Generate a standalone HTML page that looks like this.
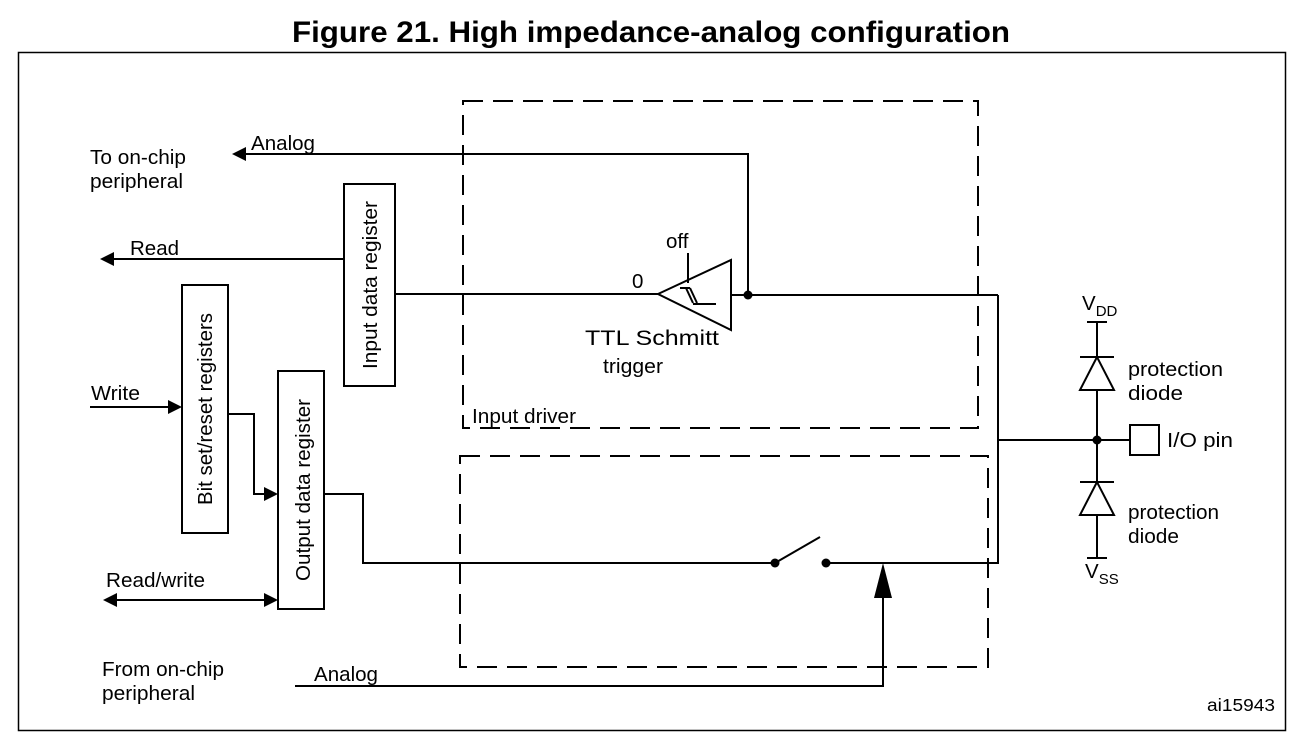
<!DOCTYPE html>
<html><head><meta charset="utf-8"><style>
html,body{margin:0;padding:0;background:#fff;}
svg{display:block;font-family:"Liberation Sans",Arial,sans-serif;}
</style></head><body>
<svg width="1304" height="742" viewBox="0 0 1304 742" xmlns="http://www.w3.org/2000/svg">
<text x="651" y="42" text-anchor="middle" font-size="30" font-weight="bold" textLength="718" lengthAdjust="spacingAndGlyphs">Figure 21. High impedance-analog configuration</text>
<rect x="18.5" y="52.5" width="1267" height="678" fill="none" stroke="#000" stroke-width="1.5"/>
<g fill="none" stroke="#000" stroke-width="2" stroke-dasharray="20,10">
<rect x="463" y="101" width="515" height="327"/>
<rect x="460" y="456" width="528" height="211"/>
</g>
<g fill="none" stroke="#000" stroke-width="2">
<rect x="182" y="285" width="46" height="248"/>
<rect x="278" y="371" width="46" height="238"/>
<rect x="344" y="184" width="51" height="202"/>
<polyline points="748,295 748,154 236,154"/>
<line x1="344" y1="259" x2="104" y2="259"/>
<line x1="395" y1="294" x2="658" y2="294"/>
<polygon points="658,294 731,260 731,330"/>
<line x1="688" y1="253" x2="688" y2="283"/>
<polyline points="680,288 690,288"/>
<line x1="690" y1="288" x2="697" y2="303"/>
<line x1="686" y1="288" x2="693" y2="303"/>
<line x1="693" y1="304" x2="716" y2="304"/>
<line x1="731" y1="295" x2="998" y2="295"/>
<polyline points="998,295 998,563 830,563"/>
<line x1="998" y1="440" x2="1130" y2="440"/>
<line x1="90" y1="407" x2="172" y2="407"/>
<polyline points="228,414 254,414 254,494 268,494"/>
<line x1="113" y1="600" x2="268" y2="600"/>
<polyline points="324,494 363,494 363,563 775,563"/>
<line x1="775" y1="563" x2="820" y2="537"/>
<polyline points="295,686 883,686 883,598"/>
<line x1="1097" y1="322" x2="1097" y2="558"/>
<line x1="1087" y1="322" x2="1107" y2="322"/>
<line x1="1087" y1="558" x2="1107" y2="558"/>
<line x1="1080" y1="357" x2="1114" y2="357"/>
<polygon points="1097,357 1080,390 1114,390" fill="#fff"/>
<line x1="1080" y1="482" x2="1114" y2="482"/>
<polygon points="1097,482 1080,515 1114,515" fill="#fff"/>
<rect x="1130" y="425" width="29" height="30" fill="#fff"/>
</g>
<g fill="#000">
<path d="M232,154 L246,147 L246,161 z"/>
<path d="M100,259 L114,252 L114,266 z"/>
<path d="M182,407 L168,400 L168,414 z"/>
<path d="M278,494 L264,487 L264,501 z"/>
<path d="M278,600 L264,593 L264,607 z"/>
<path d="M103,600 L117,593 L117,607 z"/>
<path d="M883,563 L874,598 L892,598 z"/>
<circle cx="748" cy="295" r="4.5"/>
<circle cx="775" cy="563" r="4.5"/>
<circle cx="826" cy="563" r="4.5"/>
<circle cx="1097" cy="440" r="4.5"/>
</g>
<g font-size="20.5" fill="#000">
<text x="90" y="164" textLength="96" lengthAdjust="spacingAndGlyphs">To on-chip</text>
<text x="90" y="188" textLength="93" lengthAdjust="spacingAndGlyphs">peripheral</text>
<text x="251" y="150" textLength="64" lengthAdjust="spacingAndGlyphs">Analog</text>
<text x="130" y="255" textLength="49" lengthAdjust="spacingAndGlyphs">Read</text>
<text x="91" y="400" textLength="49" lengthAdjust="spacingAndGlyphs">Write</text>
<text x="106" y="587" textLength="99" lengthAdjust="spacingAndGlyphs">Read/write</text>
<text x="102" y="676" textLength="122" lengthAdjust="spacingAndGlyphs">From on-chip</text>
<text x="102" y="700" textLength="93" lengthAdjust="spacingAndGlyphs">peripheral</text>
<text x="314" y="681" textLength="64" lengthAdjust="spacingAndGlyphs">Analog</text>
<text x="666" y="248">off</text>
<text x="632" y="288">0</text>
<text x="585" y="345" font-size="21.5" textLength="134" lengthAdjust="spacingAndGlyphs">TTL Schmitt</text>
<text x="603" y="373" textLength="60" lengthAdjust="spacingAndGlyphs">trigger</text>
<text x="472" y="423" textLength="104" lengthAdjust="spacingAndGlyphs">Input driver</text>
<text x="1082" y="310">V<tspan font-size="15" dy="6">DD</tspan></text>
<text x="1085" y="578">V<tspan font-size="15" dy="6">SS</tspan></text>
<text x="1128" y="376" textLength="95" lengthAdjust="spacingAndGlyphs">protection</text>
<text x="1128" y="400" textLength="55" lengthAdjust="spacingAndGlyphs">diode</text>
<text x="1128" y="519" textLength="91" lengthAdjust="spacingAndGlyphs">protection</text>
<text x="1128" y="543" textLength="51" lengthAdjust="spacingAndGlyphs">diode</text>
<text x="1167" y="447" textLength="66" lengthAdjust="spacingAndGlyphs">I/O pin</text>
<text x="1207" y="711" font-size="17.5" textLength="68" lengthAdjust="spacingAndGlyphs">ai15943</text>
<text transform="translate(212,409) rotate(-90)" text-anchor="middle" textLength="192" lengthAdjust="spacingAndGlyphs">Bit set/reset registers</text>
<text transform="translate(310,490) rotate(-90)" text-anchor="middle" textLength="182" lengthAdjust="spacingAndGlyphs">Output data register</text>
<text transform="translate(377,285) rotate(-90)" text-anchor="middle" textLength="168" lengthAdjust="spacingAndGlyphs">Input data register</text>
</g>
</svg>
</body></html>
